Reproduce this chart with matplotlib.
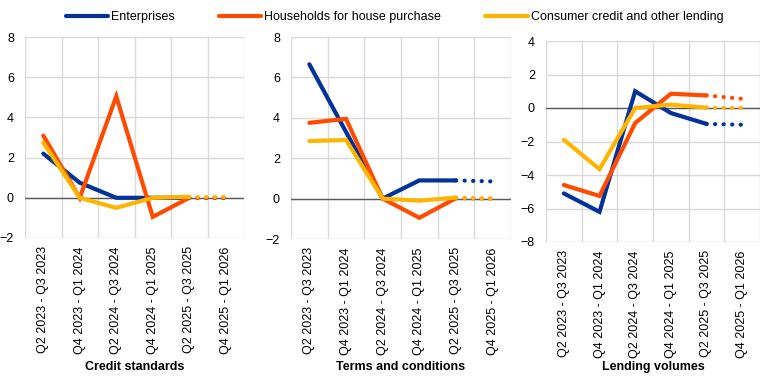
import matplotlib
matplotlib.use("Agg")
import matplotlib.pyplot as plt

plt.rcParams['font.family'] = ['Liberation Sans', 'DejaVu Sans']

categories = ["Q2 2023 - Q3 2023", "Q4 2023 - Q1 2024", "Q2 2024 - Q3 2024",
              "Q4 2024 - Q1 2025", "Q2 2025 - Q3 2025", "Q4 2025 - Q1 2026"]
series_names = ["Enterprises", "Households for house purchase", "Consumer credit and other lending"]
colors = ["#003299", "#FF4B00", "#FFB400"]
panel_titles = ["Credit standards", "Terms and conditions", "Lending volumes"]

credit_enterprises = [2.2, 0.75, 0.0, 0.0, 0.0, 0.0]
credit_households = [3.1, 0.0, 5.05, -0.95, 0.0, 0.0]
credit_consumer = [2.75, 0.0, -0.5, 0.0, 0.05, 0.05]

terms_enterprises = [6.65, 3.3, 0.0, 0.9, 0.9, 0.85]
terms_households = [3.75, 3.95, 0.0, -0.95, 0.02, 0.0]
terms_consumer = [2.85, 2.9, 0.0, -0.1, 0.05, 0.0]

volumes_enterprises = [-5.1, -6.2, 1.0, -0.3, -0.95, -1.0]
volumes_households = [-4.6, -5.25, -0.9, 0.85, 0.75, 0.55]
volumes_consumer = [-1.9, -3.65, 0.0, 0.2, 0.02, 0.0]

panels = [
    [credit_enterprises, credit_households, credit_consumer],
    [terms_enterprises, terms_households, terms_consumer],
    [volumes_enterprises, volumes_households, volumes_consumer],
]
ylims = [(-2, 8), (-2, 8), (-8, 4)]

W, H = 766, 382
fig = plt.figure(figsize=(W / 100, H / 100), dpi=100)
boxes = [(25, 37, 244, 238), (291, 37, 511, 239), (546, 41, 760, 242)]

lw = 3.0
for p, (box, data, ylim, title) in enumerate(zip(boxes, panels, ylims, panel_titles)):
    x0, y0, x1, y1 = box
    ax = fig.add_axes([x0 / W, (H - y1) / H, (x1 - x0) / W, (y1 - y0) / H])
    n = len(categories)
    xs = list(range(n))
    for vals, c, name in zip(data, colors, series_names):
        ax.plot(xs[:5], vals[:5], color=c, lw=lw, solid_capstyle='round',
                solid_joinstyle='miter', label=name, zorder=3)
        ax.plot(xs[4:], vals[4:], color=c, lw=lw, linestyle=(0, (0.05, 2.0)),
                dash_capstyle='round', zorder=3)
    ax.set_xlim(-0.5, n - 0.5)
    ax.set_ylim(*ylim)
    ax.set_yticks(range(ylim[0], ylim[1] + 1, 2))
    ax.set_xticks(xs)
    ax.set_xticklabels(categories, rotation=90, fontsize=9, color='#000000')
    ax.set_xticks([i - 0.5 for i in range(n + 1)], minor=True)
    ax.grid(True, which='minor', axis='x', color='#D9D9D9', lw=1.0)
    ax.grid(True, which='major', axis='y', color='#D9D9D9', lw=1.0)
    ax.grid(False, which='major', axis='x')
    ax.axhline(0, color='#595959', lw=1.0, zorder=2)
    ax.tick_params(axis='both', which='both', length=0, labelsize=9)
    ax.tick_params(axis='y', pad=8)
    ax.tick_params(axis='x', pad=6)
    for s in ax.spines.values():
        s.set_visible(False)
    ax.set_axisbelow(True)
    fig.text((x0 + x1) / 2 / W, (H - 367) / H, title, fontsize=9, fontweight='bold',
             ha='center', va='center')
    if p == 0:
        handles, labels = ax.get_legend_handles_labels()

fig.legend(handles, labels, loc='center', bbox_to_anchor=(394.5 / W, (H - 17) / H), ncol=3,
           frameon=False, fontsize=9, handlelength=3.4, handletextpad=0.25,
           columnspacing=3.5)

fig.savefig("out.png", dpi=100)
